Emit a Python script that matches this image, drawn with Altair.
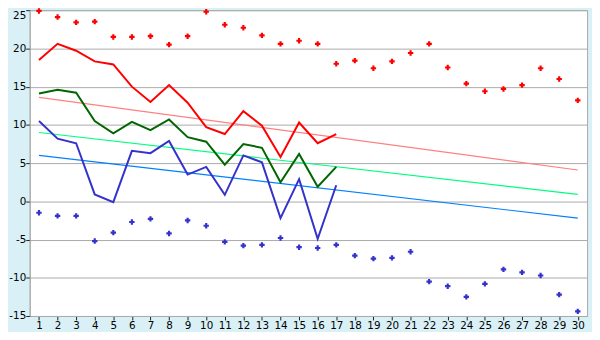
import altair as alt
import pandas as pd

days = list(range(1, 31))
max_pts = [24.9, 24.1, 23.4, 23.5, 21.5, 21.5, 21.6, 20.5, 21.6, 24.8,
           23.1, 22.7, 21.7, 20.6, 21.0, 20.6, 18.0, 18.4, 17.4, 18.3,
           19.4, 20.6, 17.5, 15.4, 14.4, 14.7, 15.2, 17.4, 16.0, 13.2]
min_pts = [-1.5, -1.9, -1.9, -5.2, -4.1, -2.7, -2.3, -4.2, -2.5, -3.2,
           -5.3, -5.8, -5.7, -4.8, -6.0, -6.1, -5.7, -7.1, -7.5, -7.4,
           -6.6, -10.5, -11.1, -12.5, -10.8, -8.9, -9.3, -9.7, -12.2, -14.4]
obs_days = list(range(1, 18))
max_line = [18.5, 20.6, 19.7, 18.3, 17.9, 15.0, 13.0, 15.2, 12.9, 9.7,
            8.8, 11.8, 9.9, 5.8, 10.3, 7.6, 8.8]
mean_line = [14.1, 14.6, 14.2, 10.5, 8.9, 10.4, 9.3, 10.7, 8.4, 7.8,
             4.8, 7.5, 7.0, 2.5, 6.2, 1.9, 4.5]
min_line = [10.5, 8.2, 7.6, 0.9, -0.1, 6.6, 6.3, 7.9, 3.5, 4.5,
            0.85, 6.0, 5.1, -2.2, 2.9, -4.9, 2.1]
trend_days = [1, 30]
trend_max = [13.6, 4.1]
trend_mean = [9.0, 0.9]
trend_min = [6.0, -2.2]
y_ticks = [-15, -10, -5, 0, 5, 10, 15, 20, 25]

FONT = "DejaVu Sans"
FS = 10.5

xs = alt.Scale(domain=[0.5, 30.5], nice=False, zero=False)
ys = alt.Scale(domain=[-15, 25], nice=False, zero=False)

x_axis = alt.Axis(values=days, format="d", labelAngle=0, grid=False, tickSize=4,
                  tickColor="#222222", domainColor="#aaaaaa", labelPadding=1,
                  labelFont=FONT, labelFontSize=FS, labelColor="#000000", title=None,
                  labelFlush=False, labelOverlap=False)
y_axis = alt.Axis(values=y_ticks, grid=True,
                  gridColor="#aaaaaa", gridWidth=1, tickSize=4, tickColor="#222222",
                  domainColor="#aaaaaa", labelPadding=0, labelFont=FONT,
                  labelFontSize=FS, labelColor="#000000", title=None,
                  labelFlush=False, labelOverlap=False,
                  labelExpr="'' + datum.value",
                  labelBaseline={"condition": {"test": "datum.value == 25", "value": "top"},
                                 "value": "middle"})


def enc():
    return dict(
        x=alt.X("day:Q", scale=xs, axis=x_axis),
        y=alt.Y("val:Q", scale=ys, axis=y_axis),
    )


def line_layer(xv, yv, color, width):
    df = pd.DataFrame({"day": xv, "val": yv})
    return alt.Chart(df).mark_line(color=color, strokeWidth=width).encode(**enc())


def point_layer(xv, yv, color):
    df = pd.DataFrame({"day": xv, "val": yv})
    return alt.Chart(df).mark_point(shape="cross", filled=True, color=color,
                                    size=30, opacity=1).encode(**enc())


chart = alt.layer(
    line_layer(trend_days, trend_max, "#ff8080", 1.2),
    line_layer(trend_days, trend_mean, "#00ff80", 1.2),
    line_layer(trend_days, trend_min, "#0080ff", 1.2),
    line_layer(obs_days, min_line, "#3333cc", 2),
    line_layer(obs_days, mean_line, "#006600", 2),
    line_layer(obs_days, max_line, "#ff0000", 2),
    point_layer(days, max_pts, "#ff0000"),
    point_layer(days, min_pts, "#3333cc"),
).properties(
    width=565,
    height=310,
    autosize=alt.AutoSizeParams(type="none"),
    padding={"left": 22, "top": 0, "right": 5, "bottom": 14},
    background="#d9f0f6",
).configure_view(
    fill="#ffffff", stroke="#aaaaaa", strokeWidth=1
)

chart.save("out.html", embed_options={"renderer": "svg", "actions": False})
